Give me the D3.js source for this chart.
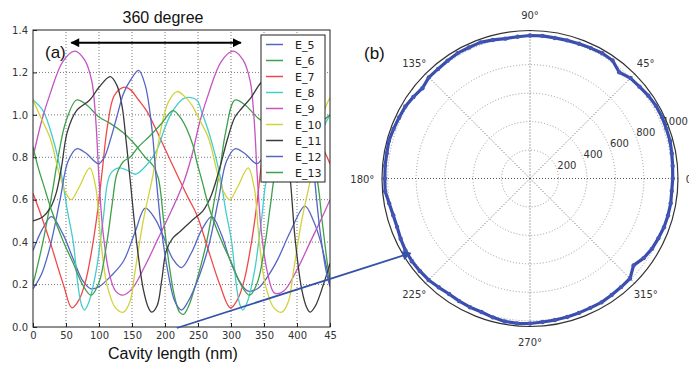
<!DOCTYPE html>
<html>
<head>
<meta charset="utf-8">
<script src="https://cdn.jsdelivr.net/npm/d3@7"></script>
<style>
  body { margin: 0; background: #fff; }
  text { font-family: "DejaVu Sans", sans-serif; }
  .big { font-family: "Liberation Sans", Arial, sans-serif; }
</style>
</head>
<body>
<svg id="fig" width="689" height="366"></svg>
<script>
// ---- data (a): field vs cavity length ----
const E_5 = [[0,0.36],[14,0.46],[28,0.52],[45,0.44],[61,0.32],[75,0.22],[88,0.18],[100,0.19],[118,0.24],[137,0.31],[155,0.45],[170,0.56],[185,0.51],[197,0.43],[212,0.32],[225,0.28],[240,0.35],[256,0.46],[271,0.52],[285,0.44],[298,0.32],[312,0.22],[325,0.17],[340,0.18],[356,0.24],[371,0.32],[390,0.45],[412,0.57],[425,0.5],[436,0.4],[450,0.2]];
const E_6 = [[0,0.2],[15,0.4],[30,0.65],[38,0.8],[50,0.97],[66,1.07],[80,1.05],[100,0.99],[117,0.96],[135,0.92],[152,0.87],[170,0.8],[182,0.76],[190,0.7],[198,0.5],[206,0.3],[214,0.15],[222,0.07],[228,0.06],[236,0.1],[250,0.24],[263,0.4],[275,0.6],[283,0.74],[292,0.92],[306,1.07],[320,1.05],[343,0.98],[357,0.96],[375,0.92],[392,0.87],[410,0.8],[422,0.76],[430,0.7],[438,0.5],[446,0.3],[450,0.22]];
const E_7 = [[0,0.63],[13,0.52],[26,0.4],[46,0.2],[59,0.09],[70,0.13],[80,0.22],[90,0.38],[98,0.55],[105,0.74],[113,0.95],[123,1.09],[137,1.13],[147,1.12],[160,1.07],[172,1.02],[185,0.94],[197,0.86],[218,0.72],[235,0.61],[248,0.53],[268,0.34],[283,0.2],[299,0.09],[310,0.13],[320,0.22],[330,0.38],[338,0.55],[345,0.74],[353,0.95],[363,1.09],[377,1.13],[387,1.12],[400,1.07],[412,1.02],[425,0.94],[437,0.86],[450,0.77]];
const E_8 = [[0,1.07],[15,1.02],[30,0.89],[43,0.72],[52,0.55],[61,0.4],[68,0.2],[73,0.11],[78,0.08],[85,0.12],[96,0.27],[106,0.5],[117,0.72],[130,0.75],[142,0.74],[155,0.72],[165,0.74],[187,0.83],[200,0.94],[212,1.02],[230,1.08],[248,1.07],[256,1.01],[263,0.95],[270,0.88],[283,0.72],[292,0.55],[301,0.4],[308,0.2],[313,0.11],[318,0.08],[325,0.12],[336,0.27],[346,0.5],[357,0.72],[370,0.75],[382,0.74],[395,0.72],[405,0.74],[427,0.83],[440,0.94],[450,1.0]];
const E_9 = [[0,0.8],[13,0.97],[26,1.1],[45,1.25],[63,1.3],[78,1.26],[89,1.16],[95,0.98],[100,0.7],[106,0.45],[115,0.26],[125,0.17],[136,0.15],[150,0.18],[170,0.29],[190,0.42],[210,0.55],[228,0.68],[240,0.8],[253,0.97],[266,1.1],[285,1.25],[303,1.3],[318,1.26],[329,1.16],[335,0.98],[340,0.7],[346,0.45],[355,0.26],[366,0.16],[380,0.17],[400,0.27],[420,0.4],[440,0.53],[450,0.6]];
const E_10 = [[0,1.07],[10,1.0],[26,0.89],[40,0.72],[50,0.63],[58,0.6],[70,0.66],[86,0.75],[95,0.66],[103,0.4],[112,0.2],[125,0.09],[137,0.07],[147,0.12],[154,0.25],[167,0.5],[182,0.72],[195,0.95],[205,1.06],[218,1.11],[232,1.08],[242,1.04],[250,0.99],[266,0.89],[280,0.72],[290,0.63],[298,0.6],[310,0.66],[326,0.75],[335,0.66],[343,0.4],[352,0.2],[365,0.09],[377,0.07],[387,0.12],[394,0.25],[407,0.5],[422,0.72],[435,0.95],[445,1.05],[450,1.08]];
const E_11 = [[0,0.5],[15,0.52],[26,0.56],[35,0.63],[43,0.75],[52,0.92],[66,1.02],[86,1.07],[100,1.13],[117,1.18],[127,1.14],[135,1.04],[141,0.88],[147,0.7],[157,0.4],[167,0.18],[175,0.09],[180,0.07],[188,0.1],[195,0.22],[202,0.36],[212,0.42],[223,0.45],[240,0.5],[258,0.55],[270,0.62],[283,0.75],[295,0.89],[306,0.99],[316,1.03],[330,1.08],[345,1.15],[357,1.18],[367,1.14],[375,1.04],[381,0.88],[389,0.72],[397,0.42],[407,0.18],[415,0.09],[420,0.07],[428,0.1],[440,0.2],[450,0.3]];
const E_12 = [[0,0.18],[13,0.25],[26,0.38],[41,0.6],[53,0.78],[66,0.84],[80,0.82],[99,0.77],[108,0.8],[117,0.88],[127,0.99],[137,1.1],[147,1.16],[160,1.21],[170,1.14],[180,0.94],[187,0.69],[195,0.45],[205,0.25],[215,0.12],[225,0.08],[235,0.12],[253,0.25],[266,0.38],[281,0.6],[293,0.78],[306,0.84],[320,0.82],[339,0.77],[348,0.8],[357,0.88],[367,0.99],[377,1.1],[387,1.16],[400,1.21],[410,1.14],[420,0.94],[427,0.69],[435,0.45],[445,0.25],[450,0.19]];
const E_13 = [[0,0.85],[8,0.75],[16,0.67],[28,0.55],[45,0.41],[61,0.3],[75,0.2],[88,0.15],[100,0.21],[112,0.4],[120,0.58],[127,0.72],[137,0.78],[147,0.8],[160,0.85],[177,0.9],[195,0.96],[212,1.02],[225,0.98],[242,0.86],[248,0.78],[256,0.69],[268,0.55],[285,0.41],[301,0.3],[315,0.2],[328,0.15],[340,0.21],[352,0.4],[360,0.58],[367,0.72],[377,0.78],[387,0.8],[400,0.85],[417,0.9],[435,0.96],[450,1.0]];

const seriesNames = ['E_5','E_6','E_7','E_8','E_9','E_10','E_11','E_12','E_13'];
const seriesData = [E_5, E_6, E_7, E_8, E_9, E_10, E_11, E_12, E_13];
const seriesColors = ['#5565c4','#3fa04a','#f04848','#45cccc','#c454c0','#d2d23c','#3a3a3a','#5565c4','#3fa04a'];

const xTicks = [0,50,100,150,200,250,300,350,400,450];
const xTickLabels = ['0','50','100','150','200','250','300','350','400','45'];
const yTicks = [0,0.2,0.4,0.6,0.8,1.0,1.2,1.4];

// ---- data (b): polar trace, angle in degrees and radius ----
const polarAngles = [0,5,10,15,20,25,30,35,40,45,50,55,60,65,70,75,80,85,90,95,100,105,110,115,120,125,130,135,140,145,150,155,160,165,170,175,180,185,190,195,200,205,210,215,220,225,230,235,240,245,250,255,260,265,270,275,280,285,290,295,300,305,310,315,320,325,330,335,340,345,350,355];
const polarRadii = [1003,1006,1012,1019,1020,1023,1022,1015,1004,998,975,1012,1016,1011,1008,1005,1003,1006,1005,1000,998,1008,1018,1016,1017,1010,1005,1005,987,1000,1012,1015,1020,1026,1022,1022,1020,1022,1005,995,994,1003,1011,1013,1011,1008,998,991,995,998,998,1010,1020,1022,1019,1012,1010,1008,1005,1003,1005,1000,996,994,950,975,989,995,1002,1004,1004,1000];
const rRings = [200,400,600,800,1000];
const angleTicks = [0,45,90,135,180,225,270,315];

const svg = d3.select('#fig');

// ================= panel (a) =================
const x = d3.scaleLinear().domain([0,450]).range([33,330]);
const y = d3.scaleLinear().domain([0,1.4]).range([327,30]);

const grid = svg.append('g');
grid.selectAll('.gx').data(xTicks.slice(1,-1)).enter().append('line')
  .attr('x1', d => x(d)).attr('x2', d => x(d)).attr('y1', y(0)).attr('y2', y(1.4))
  .attr('stroke', '#777').attr('stroke-dasharray', '1,2');
grid.selectAll('.gy').data(yTicks.slice(1,-1)).enter().append('line')
  .attr('x1', x(0)).attr('x2', x(450)).attr('y1', d => y(d)).attr('y2', d => y(d))
  .attr('stroke', '#777').attr('stroke-dasharray', '1,2');

svg.append('clipPath').attr('id', 'clipA').append('rect')
  .attr('x', x(0)).attr('y', y(1.4)).attr('width', x(450) - x(0)).attr('height', y(0) - y(1.4));

const line = d3.line()
  .x(d => x(d[0])).y(d => y(d[1]))
  .curve(d3.curveCatmullRom.alpha(0.5));

svg.append('g').attr('clip-path', 'url(#clipA)')
  .selectAll('path').data(seriesData).enter().append('path')
  .attr('d', line)
  .attr('fill', 'none')
  .attr('stroke', (d, i) => seriesColors[i])
  .attr('stroke-width', 1.3);

svg.append('rect')
  .attr('x', x(0)).attr('y', y(1.4)).attr('width', x(450) - x(0)).attr('height', y(0) - y(1.4))
  .attr('fill', 'none').attr('stroke', '#222').attr('stroke-width', 1);

const xAxis = svg.append('g').attr('transform', `translate(0,${y(0)})`)
  .call(d3.axisBottom(x).tickValues(xTicks).tickFormat((d, i) => xTickLabels[i]).tickSizeInner(-4).tickSizeOuter(0).tickPadding(5));
const yAxis = svg.append('g').attr('transform', `translate(${x(0)},0)`)
  .call(d3.axisLeft(y).tickValues(yTicks).tickFormat(d3.format('.1f')).tickSizeInner(-4).tickSizeOuter(0).tickPadding(5));
[xAxis, yAxis].forEach(a => {
  a.select('.domain').remove();
  a.selectAll('text').attr('font-family', 'DejaVu Sans').attr('font-size', 10).attr('fill', '#333');
  a.selectAll('line').attr('stroke', '#222');
});

svg.append('text').attr('class', 'big').attr('x', x(212)).attr('y', 359)
  .attr('text-anchor', 'middle').attr('font-size', 16).attr('fill', '#111')
  .text('Cavity length (nm)');

svg.append('text').attr('class', 'big').attr('x', 163).attr('y', 23)
  .attr('text-anchor', 'middle').attr('font-size', 16).attr('fill', '#111')
  .text('360 degree');

svg.append('text').attr('class', 'big').attr('x', 45).attr('y', 58)
  .attr('font-size', 17).attr('fill', '#111').text('(a)');

// double arrow
const defs = svg.append('defs');
defs.append('marker').attr('id', 'blk').attr('viewBox', '0 0 10 10')
  .attr('refX', 9).attr('refY', 5).attr('markerWidth', 5).attr('markerHeight', 4)
  .attr('markerUnits', 'strokeWidth').attr('orient', 'auto-start-reverse')
  .append('path').attr('d', 'M0,0 L10,5 L0,10 z').attr('fill', '#000');
defs.append('marker').attr('id', 'blu').attr('viewBox', '0 0 10 10')
  .attr('refX', 9).attr('refY', 5).attr('markerWidth', 6).attr('markerHeight', 5)
  .attr('markerUnits', 'strokeWidth').attr('orient', 'auto')
  .append('path').attr('d', 'M0,0 L10,5 L0,10 z').attr('fill', '#3352a8');

svg.append('line')
  .attr('x1', x(58)).attr('x2', x(315)).attr('y1', y(1.34)).attr('y2', y(1.34))
  .attr('stroke', '#000').attr('stroke-width', 2.2)
  .attr('marker-start', 'url(#blk)').attr('marker-end', 'url(#blk)');

// legend
const lg = svg.append('g');
lg.append('rect').attr('x', 261).attr('y', 35).attr('width', 64).attr('height', 147)
  .attr('fill', '#fff').attr('stroke', '#222').attr('stroke-width', 1);
seriesNames.forEach((n, i) => {
  const yy = 44.5 + i * 16;
  lg.append('line').attr('x1', 266).attr('x2', 283).attr('y1', yy).attr('y2', yy)
    .attr('stroke', seriesColors[i]).attr('stroke-width', 1.5);
  lg.append('text').attr('x', 295).attr('y', yy + 4).attr('font-size', 11).attr('fill', '#222').text(n);
});

// ================= panel (b) =================
const cx = 530, cy = 178.5;
const r = d3.scaleLinear().domain([0,1040]).range([0,148]);
const P = svg.append('g').attr('transform', `translate(${cx},${cy})`);
const toXY = (deg, rad) => [r(rad) * Math.cos(deg * Math.PI / 180), -r(rad) * Math.sin(deg * Math.PI / 180)];

P.selectAll('.ring').data(rRings).enter().append('circle')
  .attr('r', d => r(d)).attr('fill', 'none').attr('stroke', '#999').attr('stroke-dasharray', '1,2');
P.selectAll('.spoke').data(angleTicks).enter().append('line')
  .attr('x1', 0).attr('y1', 0)
  .attr('x2', d => toXY(d, 1040)[0]).attr('y2', d => toXY(d, 1040)[1])
  .attr('stroke', '#555').attr('stroke-dasharray', '1,2');
P.append('circle').attr('r', r(1040)).attr('fill', 'none').attr('stroke', '#333').attr('stroke-width', 1.2);

P.selectAll('.rl').data(rRings).enter().append('text')
  .attr('x', d => toXY(22.5, d)[0] + 1).attr('y', d => toXY(22.5, d)[1] + 1)
  .attr('font-size', 10).attr('fill', '#333').text(d => d);

P.selectAll('.al').data(angleTicks).enter().append('text')
  .attr('x', d => toXY(d, 1150)[0]).attr('y', d => toXY(d, 1150)[1] + 4)
  .attr('text-anchor', d => d === 0 ? 'start' : (d === 180 ? 'end' : 'middle'))
  .attr('dx', d => d === 0 ? -8 : (d === 180 ? 8 : 0))
  .attr('font-size', 10).attr('fill', '#333').text(d => d + '°');

const pts = polarAngles.map((a, i) => ({ a: a, v: polarRadii[i] }));
const radial = d3.lineRadial()
  .angle(d => (90 - d.a) * Math.PI / 180)
  .radius(d => r(d.v))
  .curve(d3.curveLinearClosed);
P.append('path').attr('d', radial(pts))
  .attr('fill', 'none').attr('stroke', '#3a4eae').attr('stroke-width', 3.2).attr('stroke-linejoin', 'round');
P.selectAll('.pt').data(pts).enter().append('circle')
  .attr('cx', d => toXY(d.a, d.v)[0]).attr('cy', d => toXY(d.a, d.v)[1])
  .attr('r', 2.2).attr('fill', '#4556b6');

svg.append('text').attr('class', 'big').attr('x', 364).attr('y', 59)
  .attr('font-size', 17).attr('fill', '#111').text('(b)');

// connecting arrow
const tip = toXY(212, 990);
svg.append('line')
  .attr('x1', x(218)).attr('y1', y(0) + 1)
  .attr('x2', cx + tip[0]).attr('y2', cy + tip[1])
  .attr('stroke', '#3352a8').attr('stroke-width', 1.8)
  .attr('marker-end', 'url(#blu)');
</script>
</body>
</html>
